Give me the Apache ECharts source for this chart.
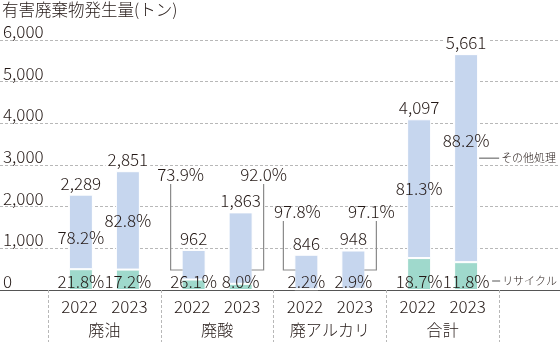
<!DOCTYPE html>
<html>
<head>
<meta charset="utf-8">
<script src="https://cdn.jsdelivr.net/npm/echarts@6/dist/echarts.min.js"></script>
<style>
  html, body { margin: 0; padding: 0; background: #fff; }
  #chart { width: 560px; height: 342px; }
</style>
</head>
<body>
<div id="chart"></div>
<script>
// Hazardous waste generated (tonnes), split into recycled vs. other treatment
const categories = ['廃油', '廃酸', '廃アルカリ', '合計'];
const years = ['2022', '2023'];
const total2022 = [2289, 962, 846, 4097];
const total2023 = [2851, 1863, 948, 5661];
const recyclePct2022 = [21.8, 26.1, 2.2, 18.7];
const recyclePct2023 = [17.2, 8.0, 2.9, 11.8];
const otherPct2022 = [78.2, 73.9, 97.8, 81.3];
const otherPct2023 = [82.8, 92.0, 97.1, 88.2];
const yTicks = [0, 1000, 2000, 3000, 4000, 5000, 6000];
const otherName = 'その他処理';
const recycleName = 'リサイクル';
const titleText = '有害廃棄物発生量(トン)';

const totals = [total2022, total2023];
const recyclePct = [recyclePct2022, recyclePct2023];
const otherPct = [otherPct2022, otherPct2023];

// Styling
const FONT = '"Noto Sans CJK JP", "Noto Sans", sans-serif';
const WEIGHT = 300;
const TEXT = '#231815';
const BLUE = '#c6d6ee';
const TEAL = '#9fd9cc';
const GRID_LINE = '#b8b8b8';
const LEADER = '#8a8a8a';
const BAR_W = 24;
const GAP_RATIO = 23 / 24;
const HALF_PITCH = (BAR_W + BAR_W * GAP_RATIO) / 2;
const NUM_SIZE = 17;

// Categories whose "other" share is written outside the bar with a bracket leader
const calloutCats = [1, 2];
const callouts = [
  { cat: 1, year: 0, side: 'left',  labelAt: 2760, dx: 10 },
  { cat: 1, year: 1, side: 'right', labelAt: 2760, dx: 0 },
  { cat: 2, year: 0, side: 'left',  labelAt: 1872, dx: 14 },
  { cat: 2, year: 1, side: 'right', labelAt: 1872, dx: -5 }
];
const LEADER_AT = 480;
// small vertical nudges for in-bar percentage labels
const pctNudge = { '0-0': 6, '3-1': -18 };

const chart = echarts.init(document.getElementById('chart'));

const numLabel = { fontFamily: FONT, fontSize: NUM_SIZE, fontWeight: WEIGHT, color: TEXT };

const barSeries = [];
years.forEach((yr, y) => {
  const recycle = totals[y].map((t, i) => t * recyclePct[y][i] / 100);
  const other = totals[y].map((t, i) => t - recycle[i]);
  barSeries.push({
    type: 'bar', name: recycleName + yr, stack: 's' + y,
    xAxisIndex: 1, yAxisIndex: 1, barWidth: BAR_W, barGap: (GAP_RATIO * 100) + '%',
    itemStyle: { color: TEAL, borderColor: '#fff', borderWidth: 1 },
    label: Object.assign({
      show: true, position: 'insideBottom', distance: 0,
      formatter: p => recyclePct[y][p.dataIndex].toFixed(1) + '%'
    }, numLabel),
    data: recycle
  });
  barSeries.push({
    type: 'bar', name: otherName + yr, stack: 's' + y,
    xAxisIndex: 1, yAxisIndex: 1, barWidth: BAR_W,
    itemStyle: { color: BLUE, borderColor: '#fff', borderWidth: 1 },
    label: Object.assign({
      show: true, position: 'inside',
      formatter: p => otherPct[y][p.dataIndex].toFixed(1) + '%'
    }, numLabel),
    data: other.map((v, i) => {
      const item = { value: v };
      if (calloutCats.includes(i)) item.label = { show: false };
      const n = pctNudge[i + '-' + y];
      if (n) item.label = { offset: [0, n] };
      return item;
    })
  });
  // zero-height cap that carries the total above each stack
  barSeries.push({
    type: 'bar', name: '合計' + yr, stack: 's' + y,
    xAxisIndex: 1, yAxisIndex: 1, barWidth: BAR_W,
    itemStyle: { color: 'transparent' },
    label: Object.assign({
      show: true, position: 'top', distance: 3,
      backgroundColor: '#fff', padding: [0, 2],
      formatter: p => totals[y][p.dataIndex].toLocaleString('en-US')
    }, numLabel),
    data: totals[y].map(() => 0)
  });
});

function barGeom(api, cat, year) {
  const cx = api.coord([cat, 0])[0];
  const center = cx + (year === 0 ? -HALF_PITCH : HALF_PITCH);
  return { center, left: center - BAR_W / 2, right: center + BAR_W / 2 };
}

// Bracket leaders for outside labels, plus the two series tags at the right
const annotations = callouts.map(c => ({ kind: 'callout', ...c }))
  .concat([
    { kind: 'tag', cat: 3, year: 1, which: 'other' },
    { kind: 'tag', cat: 3, year: 1, which: 'recycle' }
  ]);

const annotationSeries = {
  type: 'custom', xAxisIndex: 1, yAxisIndex: 1, z: 5, silent: true,
  data: annotations.map((a, i) => [a.cat, i]),
  encode: { x: 0, y: 1 },
  renderItem: (params, api) => {
    const a = annotations[params.dataIndex];
    const g = barGeom(api, a.cat, a.year);
    const baseY = api.coord([a.cat, 0])[1];
    if (a.kind === 'callout') {
      const edge = a.side === 'left' ? g.left + 1 : g.right - 1;
      const lineX = a.side === 'left' ? g.left - 11 : g.right + 11;
      const yLabel = api.coord([a.cat, a.labelAt])[1];
      const yLeader = api.coord([a.cat, LEADER_AT])[1];
      return {
        type: 'group',
        children: [
          {
            type: 'polyline',
            shape: { points: [[lineX, yLabel + 9], [lineX, yLeader], [edge, yLeader]] },
            style: { stroke: LEADER, lineWidth: 1.2, fill: null }
          },
          {
            type: 'text',
            style: {
              text: otherPct[a.year][a.cat].toFixed(1) + '%',
              x: lineX + a.dx, y: yLabel, align: 'center', verticalAlign: 'middle',
              fill: TEXT, fontSize: NUM_SIZE, fontWeight: WEIGHT, fontFamily: FONT
            }
          }
        ]
      };
    }
    const t = totals[a.year][a.cat];
    const rec = t * recyclePct[a.year][a.cat] / 100;
    let y, x0, x1, label;
    if (a.which === 'other') {
      y = api.coord([a.cat, rec + (t - rec) / 2])[1];
      x0 = g.right + 1; x1 = g.right + 21; label = otherName;
    } else {
      y = baseY - 9;
      x0 = g.right + 14; x1 = g.right + 22; label = recycleName;
    }
    return {
      type: 'group',
      children: [
        { type: 'line', shape: { x1: x0, y1: y, x2: x1, y2: y }, style: { stroke: '#555', lineWidth: 1 } },
        {
          type: 'text',
          style: {
            text: label, x: x1 + 2, y: y, align: 'left', verticalAlign: 'middle',
            fill: TEXT, fontSize: 11, fontWeight: WEIGHT, fontFamily: FONT
          }
        }
      ]
    };
  }
};

const option = {
  animation: false,
  backgroundColor: '#fff',
  textStyle: { fontFamily: FONT },
  title: {
    text: titleText, left: 2, top: 1, padding: 0,
    textStyle: { fontSize: 16.5, fontWeight: WEIGHT, color: TEXT, fontFamily: FONT }
  },
  grid: [
    { left: 0, right: 0, top: 40, bottom: 52 },
    { left: 48, right: 61, top: 40, bottom: 52 }
  ],
  xAxis: [
    {
      gridIndex: 0, type: 'value', min: 0, max: 1,
      axisLine: { show: true, lineStyle: { color: '#555', width: 1 } },
      axisTick: { show: false }, axisLabel: { show: false }, splitLine: { show: false }
    },
    {
      gridIndex: 1, type: 'category', data: categories,
      axisLine: { show: false },
      axisTick: { show: true, interval: 0, length: 52, lineStyle: { color: GRID_LINE, type: [3, 2] } },
      axisLabel: {
        interval: 0, margin: 5, color: TEXT,
        formatter: v => '{yr|' + years[0] + '}{yr|' + years[1] + '}\n{cat|' + v + '}',
        rich: {
          yr: { width: 50, align: 'center', fontSize: NUM_SIZE, fontWeight: WEIGHT, lineHeight: 23, color: TEXT, fontFamily: FONT },
          cat: { align: 'center', fontSize: 16, fontWeight: WEIGHT, lineHeight: 23, color: TEXT, fontFamily: FONT }
        }
      }
    }
  ],
  yAxis: [
    {
      gridIndex: 0, type: 'value', min: yTicks[0], max: yTicks[yTicks.length - 1], interval: 1000,
      axisLine: { show: false }, axisTick: { show: false },
      splitLine: { show: true, lineStyle: { color: GRID_LINE, type: [3, 2], width: 1 } },
      axisLabel: {
        inside: true, margin: 3, align: 'left', verticalAlign: 'bottom',
        fontSize: NUM_SIZE, fontWeight: WEIGHT, color: TEXT, fontFamily: FONT,
        formatter: v => v.toLocaleString('en-US')
      }
    },
    {
      gridIndex: 1, type: 'value', min: yTicks[0], max: yTicks[yTicks.length - 1], interval: 1000,
      show: false
    }
  ],
  series: barSeries.concat([annotationSeries])
};

chart.setOption(option);
</script>
</body>
</html>
